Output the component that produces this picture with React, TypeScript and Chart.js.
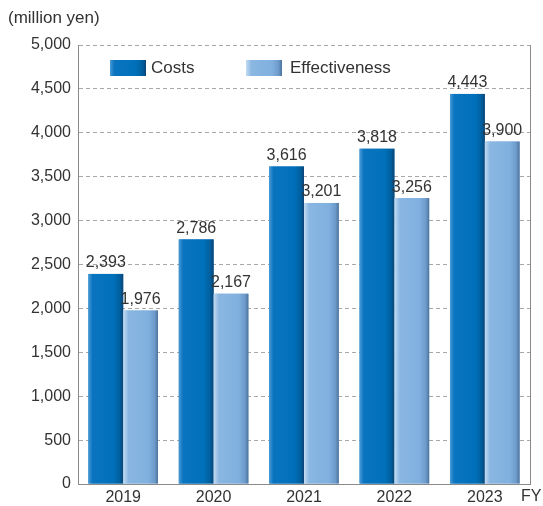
import React, { useEffect, useRef } from "react";
import { Chart, registerables } from "chart.js";
Chart.register(...registerables);

const categories = ["2019", "2020", "2021", "2022", "2023"];
const costs = [2393, 2786, 3616, 3818, 4443];
const effectiveness = [1976, 2167, 3201, 3256, 3900];
const seriesNames = ["Costs", "Effectiveness"];
const unitLabel = "(million yen)";
const axisTitleX = "FY";

const FONT = "'Liberation Sans', Arial, Helvetica, sans-serif";
const TEXT = "#333333";

function darkGrad(ctx: CanvasRenderingContext2D, x0: number, x1: number) {
  const g = ctx.createLinearGradient(x0, 0, x1, 0);
  g.addColorStop(0, "#4a9ad6");
  g.addColorStop(0.12, "#0a74bf");
  g.addColorStop(0.72, "#0070ba");
  g.addColorStop(0.9, "#005f9e");
  g.addColorStop(1, "#0d4475");
  return g;
}
function lightGrad(ctx: CanvasRenderingContext2D, x0: number, x1: number) {
  const g = ctx.createLinearGradient(x0, 0, x1, 0);
  g.addColorStop(0, "#c4dcf2");
  g.addColorStop(0.15, "#8ab7e2");
  g.addColorStop(0.72, "#80b0de");
  g.addColorStop(0.9, "#6d9bcb");
  g.addColorStop(1, "#4d739d");
  return g;
}

const fmt = (v: number) => v.toLocaleString("en-US");

export default function App() {
  const ref = useRef<HTMLCanvasElement>(null);
  useEffect(() => {
    if (!ref.current) return;
    const gradPlugin = {
      id: "grad",
      afterDatasetsDraw(chart: any) {
        const ctx = chart.ctx;
        ctx.save();
        chart.data.datasets.forEach((_: any, di: number) => {
          const meta = chart.getDatasetMeta(di);
          meta.data.forEach((el: any) => {
            const x0 = el.x - el.width / 2;
            const x1 = el.x + el.width / 2;
            ctx.fillStyle = di === 0 ? darkGrad(ctx, x0, x1) : lightGrad(ctx, x0, x1);
            ctx.fillRect(x0, el.y, x1 - x0, el.base - el.y);
          });
        });
        ctx.restore();
      },
    };
    const overlay = {
      id: "overlay",
      afterDraw(chart: any) {
        const ctx = chart.ctx;
        const ca = chart.chartArea;
        ctx.save();
        ctx.strokeStyle = "#8a8a8a";
        ctx.lineWidth = 1;
        ctx.beginPath();
        ctx.moveTo(Math.round(ca.right) + 0.5, ca.top);
        ctx.lineTo(Math.round(ca.right) + 0.5, ca.bottom);
        ctx.stroke();
        ctx.fillStyle = TEXT;
        ctx.font = `16px ${FONT}`;
        ctx.textAlign = "center";
        ctx.textBaseline = "bottom";
        chart.data.datasets.forEach((ds: any, di: number) => {
          const meta = chart.getDatasetMeta(di);
          meta.data.forEach((el: any, i: number) => {
            ctx.fillText(fmt(ds.data[i]), el.x, el.y - 3);
          });
        });
        ctx.textAlign = "left";
        ctx.textBaseline = "middle";
        ctx.font = `17px ${FONT}`;
        ctx.fillText(unitLabel, 8, 18);
        ctx.font = `16px ${FONT}`;
        ctx.fillText(axisTitleX, 521, 497);
        const items = [
          { x: 110, tx: 151, name: seriesNames[0], g: darkGrad },
          { x: 246, tx: 290, name: seriesNames[1], g: lightGrad },
        ];
        items.forEach((it) => {
          ctx.fillStyle = it.g(ctx, it.x, it.x + 36);
          ctx.fillRect(it.x, 60, 36, 16);
          ctx.fillStyle = TEXT;
          ctx.font = `17px ${FONT}`;
          ctx.fillText(it.name, it.tx, 68);
        });
        ctx.restore();
      },
    };
    const chart = new Chart(ref.current, {
      type: "bar",
      data: {
        labels: categories,
        datasets: [
          { label: seriesNames[0], data: costs, backgroundColor: "#0070ba" },
          { label: seriesNames[1], data: effectiveness, backgroundColor: "#80b0de" },
        ],
      },
      options: {
        animation: false,
        responsive: false,
        devicePixelRatio: 1,
        layout: { padding: { top: 45, right: 13, left: 0, bottom: 0 } },
        plugins: { legend: { display: false }, tooltip: { enabled: false } },
        datasets: { bar: { categoryPercentage: 0.77, barPercentage: 1.0 } },
        scales: {
          x: {
            grid: { display: false, drawTicks: false },
            border: { display: true, color: "#8a8a8a", width: 1 },
            ticks: { color: TEXT, font: { family: FONT, size: 16 }, padding: 4 },
            afterFit: (s: any) => { s.height = 22; },
          },
          y: {
            min: 0,
            max: 5000,
            grid: { color: "#a8a8a8", drawTicks: false, lineWidth: 1 },
            border: { display: true, color: "#8a8a8a", width: 1, dash: [4, 3] },
            ticks: {
              stepSize: 500,
              color: TEXT,
              font: { family: FONT, size: 16 },
              padding: 7,
              callback: (v: any) => fmt(Number(v)),
            },
            afterFit: (s: any) => { s.width = 78; },
          },
        },
      },
      plugins: [gradPlugin, overlay],
    });
    return () => chart.destroy();
  }, []);
  return (
    <div style={{ position: "fixed", left: 0, top: 0, width: 543, height: 506, background: "#fff" }}>
      <canvas ref={ref} width={543} height={506} style={{ width: 543, height: 506 }} />
    </div>
  );
}
